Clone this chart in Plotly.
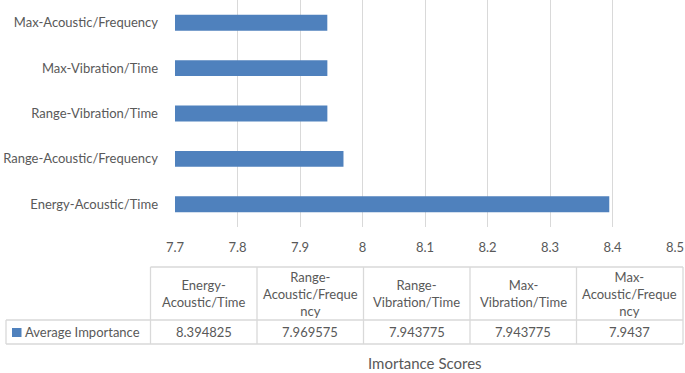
import plotly.graph_objects as go

# ---- data ----
categories = ["Energy-Acoustic/Time", "Range-Acoustic/Frequency", "Range-Vibration/Time",
              "Max-Vibration/Time", "Max-Acoustic/Frequency"]
avg_importance = [8.394825, 7.969575, 7.943775, 7.943775, 7.9437]
value_labels = ["8.394825", "7.969575", "7.943775", "7.943775", "7.9437"]
table_headers = ["Energy-<br>Acoustic/Time", "Range-<br>Acoustic/Freque<br>ncy",
                 "Range-<br>Vibration/Time", "Max-<br>Vibration/Time",
                 "Max-<br>Acoustic/Freque<br>ncy"]
x_ticks = [7.7, 7.8, 7.9, 8.0, 8.1, 8.2, 8.3, 8.4, 8.5]
x_tick_text = ["7.7", "7.8", "7.9", "8", "8.1", "8.2", "8.3", "8.4", "8.5"]
series_name = "Average Importance"
axis_title = "Imortance Scores"

# ---- layout geometry (pixels) ----
W, H = 685, 373
L, R, T, B = 175, 675, 0, 227
FONT = "Lato, Calibri, Carlito, sans-serif"
TXT = "#595959"
GRID = "#D9D9D9"
BAR = "#4F81BD"


def px(xp):
    return (xp - L) / (R - L)


def py(yp):
    return (B - yp) / (B - T)


fig = go.Figure()
fig.add_trace(go.Bar(
    x=avg_importance, y=categories, orientation="h",
    marker=dict(color=BAR, line=dict(width=0)),
    name=series_name, showlegend=False, hoverinfo="x+y",
))

# ---- data table beneath the axis ----
col_edges = [150.5 + 106.5 * i for i in range(6)]
row_top, row_mid, row_bot = 267, 320, 344
legend_left = 6
shapes = []
line = dict(color=GRID, width=1.3)


def seg(x0, y0, x1, y1):
    shapes.append(dict(type="line", xref="paper", yref="paper",
                       x0=px(x0), y0=py(y0), x1=px(x1), y1=py(y1), line=line))


seg(col_edges[0], row_top, col_edges[-1], row_top)
seg(legend_left, row_mid, col_edges[-1], row_mid)
seg(legend_left, row_bot, col_edges[-1], row_bot)
seg(legend_left, row_mid, legend_left, row_bot)
for e in col_edges:
    seg(e, row_top, e, row_bot)

# legend key square
shapes.append(dict(type="rect", xref="paper", yref="paper",
                   x0=px(12), x1=px(21.5), y0=py(337), y1=py(328),
                   fillcolor=BAR, line=dict(width=0)))

annotations = []
for i, (h, v) in enumerate(zip(table_headers, value_labels)):
    cx = (col_edges[i] + col_edges[i + 1]) / 2
    annotations.append(dict(text=h, x=px(cx), y=py((row_top + row_mid) / 2),
                            xref="paper", yref="paper", showarrow=False,
                            xanchor="center", yanchor="middle", align="center",
                            font=dict(family=FONT, size=13, color=TXT)))
    annotations.append(dict(text=v, x=px(cx), y=py((row_mid + row_bot) / 2),
                            xref="paper", yref="paper", showarrow=False,
                            xanchor="center", yanchor="middle",
                            font=dict(family=FONT, size=13, color=TXT)))
annotations.append(dict(text=series_name, x=px(23), y=py((row_mid + row_bot) / 2),
                        xref="paper", yref="paper", showarrow=False,
                        xanchor="left", yanchor="middle",
                        font=dict(family=FONT, size=13, color=TXT)))
annotations.append(dict(text=axis_title, x=px(425), y=py(363),
                        xref="paper", yref="paper", showarrow=False,
                        xanchor="center", yanchor="middle",
                        font=dict(family=FONT, size=15, color=TXT)))

fig.update_layout(
    width=W, height=H,
    margin=dict(l=L, r=W - R, t=T, b=H - B, pad=0),
    paper_bgcolor="white", plot_bgcolor="white",
    bargap=0.65,
    shapes=shapes, annotations=annotations,
    xaxis=dict(range=[7.7, 8.5], tickvals=x_ticks, ticktext=x_tick_text,
               showgrid=True, gridcolor=GRID, gridwidth=1.3, zeroline=False,
               showline=False, ticks="", ticklabelstandoff=11,
               tickfont=dict(family=FONT, size=13, color=TXT), fixedrange=True),
    yaxis=dict(type="category", categoryorder="array", categoryarray=categories,
               range=[-0.5, 4.5], showgrid=False, zeroline=False, showline=False,
               ticks="", ticklabelstandoff=16,
               tickfont=dict(family=FONT, size=13, color=TXT), fixedrange=True),
    font=dict(family=FONT, color=TXT),
)

fig.write_html(
    "out.html",
    config={"displayModeBar": False},
    post_script="document.body.style.margin='0';document.body.style.overflow='hidden';",
)
